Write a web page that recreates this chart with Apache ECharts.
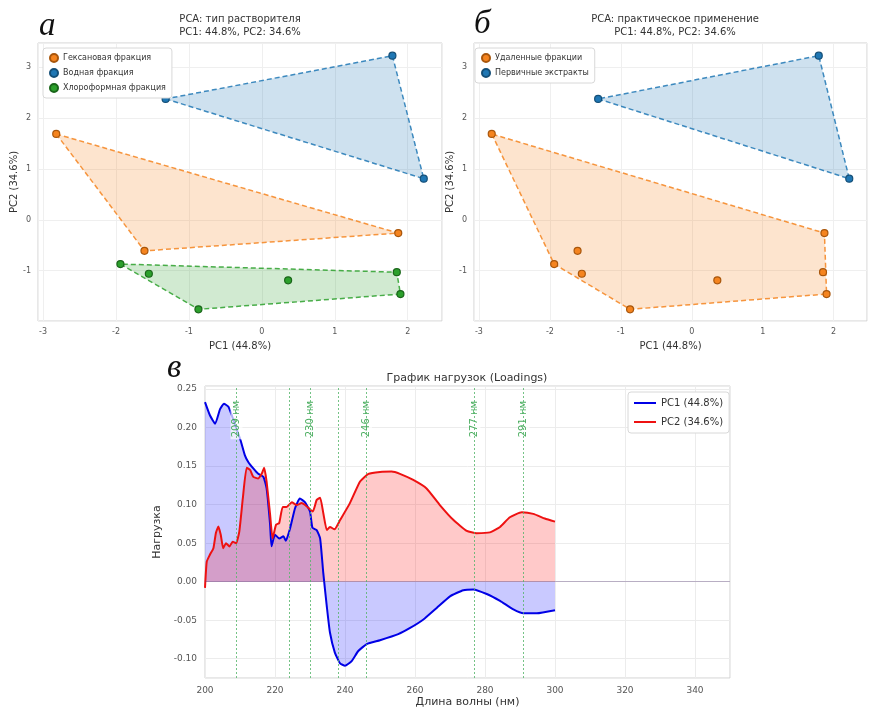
<!DOCTYPE html>
<html>
<head>
<meta charset="utf-8">
<script src="https://cdn.jsdelivr.net/npm/echarts@6/dist/echarts.min.js"></script>
<style>
html,body{margin:0;padding:0;background:#fff;}
#chart{width:870px;height:710px;}
</style>
</head>
<body>
<div id="chart"></div>
<script>
// PCA scores
const hexX = [-2.82, -1.61, 1.87];
const hexY = [1.69, -0.61, -0.26];
const waterX = [-1.32, 1.79, 2.22];
const waterY = [2.38, 3.23, 0.81];
const chloroX = [-1.94, -1.55, 0.36, 1.85, 1.90, -0.87];
const chloroY = [-0.87, -1.06, -1.19, -1.03, -1.46, -1.76];

// loadings
const pc1Wl = [200, 201.4, 202.9, 204.3, 205.4, 206.7, 208.5, 210.2, 211.4, 212.4, 213.8, 215.2, 216.7, 217.6, 218.6, 219, 220, 221.2, 222.4, 223.1, 224.3, 225.7, 227.1, 228.6, 230, 230.7, 231.9, 232.9, 233.8, 234.8, 235.7, 237.1, 238.6, 240, 241.9, 243.8, 246.2, 250, 255.2, 258.6, 262.4, 266.2, 270, 273.8, 276.7, 280.5, 284.3, 288.1, 291, 294.8, 300];
const pc1Val = [0.233, 0.216, 0.205, 0.224, 0.231, 0.227, 0.205, 0.183, 0.164, 0.155, 0.147, 0.140, 0.136, 0.121, 0.074, 0.046, 0.061, 0.056, 0.059, 0.053, 0.069, 0.095, 0.108, 0.103, 0.091, 0.070, 0.067, 0.056, 0.011, -0.032, -0.066, -0.092, -0.106, -0.109, -0.103, -0.090, -0.081, -0.076, -0.068, -0.060, -0.049, -0.034, -0.019, -0.011, -0.010, -0.016, -0.025, -0.036, -0.041, -0.041, -0.037];
const pc2Wl = [200, 200.5, 201.4, 202.4, 203.1, 203.8, 204.5, 205.2, 206, 207, 207.9, 208.9, 209.8, 210.8, 211.9, 212.9, 213.8, 215.2, 216.2, 216.9, 217.6, 218.6, 219.3, 220.3, 221.2, 222.2, 223.3, 224.8, 226.2, 227.6, 229, 230.8, 231.9, 232.9, 233.8, 234.8, 235.7, 237, 238.6, 241.4, 244.3, 246.7, 250, 253.3, 255.7, 259.5, 263.3, 267.1, 271, 274.8, 277.6, 281.4, 284.3, 287.1, 290.5, 293.8, 297.1, 300];
const pc2Val = [-0.008, 0.026, 0.035, 0.0435, 0.063, 0.0715, 0.061, 0.0435, 0.050, 0.0457, 0.052, 0.050, 0.065, 0.108, 0.148, 0.145, 0.136, 0.134, 0.140, 0.148, 0.130, 0.087, 0.056, 0.074, 0.076, 0.097, 0.097, 0.103, 0.0995, 0.102, 0.098, 0.091, 0.106, 0.109, 0.089, 0.067, 0.071, 0.068, 0.080, 0.102, 0.130, 0.140, 0.1425, 0.143, 0.140, 0.132, 0.121, 0.0995, 0.080, 0.066, 0.063, 0.064, 0.071, 0.0836, 0.090, 0.088, 0.082, 0.078];
const markWl = [209, 224, 230, 238, 246, 277, 291];
const labelWl = [209, 230, 246, 277, 291];

const ORANGE = '#f5841f', BLUE = '#1f77b4', GREEN = '#2ca02c';
const EDGE = { '#f5841f': '#a8560c', '#1f77b4': '#144f78', '#2ca02c': '#1a661a' };
const FONT = 'DejaVu Sans';

function zip(xs, ys) { return xs.map((x, i) => [x, ys[i]]); }

// convex hull (monotone chain) of a point group
function hull(pts) {
  const p = pts.slice().sort((a, b) => a[0] - b[0] || a[1] - b[1]);
  const cross = (o, a, b) => (a[0] - o[0]) * (b[1] - o[1]) - (a[1] - o[1]) * (b[0] - o[0]);
  const lo = [], up = [];
  p.forEach(q => { while (lo.length >= 2 && cross(lo[lo.length - 2], lo[lo.length - 1], q) <= 0) lo.pop(); lo.push(q); });
  p.slice().reverse().forEach(q => { while (up.length >= 2 && cross(up[up.length - 2], up[up.length - 1], q) <= 0) up.pop(); up.push(q); });
  return lo.slice(0, -1).concat(up.slice(0, -1));
}

function hullSeries(pts, color, gi) {
  const h = hull(pts);
  return {
    type: 'custom', xAxisIndex: gi, yAxisIndex: gi, silent: true, z: 1,
    data: [0],
    renderItem: (params, api) => ({
      type: 'polygon',
      shape: { points: h.map(p => api.coord(p)) },
      style: { fill: echarts.color.modifyAlpha(color, 0.22), stroke: echarts.color.modifyAlpha(color, 0.85), lineWidth: 1.5, lineDash: [5, 3] }
    })
  };
}

function dotSeries(name, pts, color, gi) {
  return {
    name: name, type: 'scatter', xAxisIndex: gi, yAxisIndex: gi, z: 3,
    symbolSize: 7, data: pts,
    itemStyle: { color: color, borderColor: EDGE[color], borderWidth: 1.2, opacity: 1 }
  };
}

const hexPts = zip(hexX, hexY), waterPts = zip(waterX, waterY), chloroPts = zip(chloroX, chloroY);
const removedPts = hexPts.concat(chloroPts);

const tickFmt = (step, dec) => v => {
  const k = Math.round(v / step);
  return Math.abs(v - k * step) < step * 1e-3 ? (k * step).toFixed(dec) : '';
};

function scoreAxes(gi) {
  return {
    x: {
      type: 'value', gridIndex: gi, min: -3.07, max: 2.47, splitNumber: 5,
      name: 'PC1 (44.8%)', nameLocation: 'middle', nameGap: 20,
      nameTextStyle: { fontFamily: FONT, fontSize: 10, color: '#333' },
      axisLine: { show: false }, axisTick: { show: false },
      axisLabel: { fontFamily: FONT, fontSize: 8, color: '#555', margin: 7, formatter: tickFmt(1, 0) },
      splitLine: { lineStyle: { color: '#efefef' } }
    },
    y: {
      type: 'value', gridIndex: gi, min: -1.99, max: 3.48, splitNumber: 5,
      name: 'PC2 (34.6%)', nameLocation: 'middle', nameGap: 17,
      nameTextStyle: { fontFamily: FONT, fontSize: 10, color: '#333' },
      axisLine: { show: false }, axisTick: { show: false },
      axisLabel: { fontFamily: FONT, fontSize: 8, color: '#555', margin: 7, formatter: v => (Math.abs(v - Math.round(v)) < 1e-3 && Math.round(v) > -2) ? String(Math.round(v)) : '' },
      splitLine: { lineStyle: { color: '#efefef' } }
    }
  };
}
const ax0 = scoreAxes(0), ax1 = scoreAxes(1);

const legendBox = { backgroundColor: '#fff', borderColor: '#d8d8d8', borderWidth: 1, borderRadius: 3, orient: 'vertical' };
const letterStyle = { fontFamily: 'Liberation Serif', fontStyle: 'italic', fontSize: 33, fill: '#111' };

const chart = echarts.init(document.getElementById('chart'), null, { renderer: 'canvas' });
chart.setOption({
  animation: false,
  backgroundColor: '#fff',
  textStyle: { fontFamily: FONT },
  grid: [
    { left: 38, top: 43, width: 404, height: 278, show: true, borderColor: '#d0d0d0', borderWidth: 1, backgroundColor: 'transparent' },
    { left: 474, top: 43, width: 404, height: 278, show: true, borderColor: '#d0d0d0', borderWidth: 1, backgroundColor: 'transparent' },
    { left: 205, top: 386, width: 525, height: 292, show: true, borderColor: '#d0d0d0', borderWidth: 1, backgroundColor: 'transparent' }
  ],
  xAxis: [ax0.x, ax1.x, {
    type: 'value', gridIndex: 2, min: 200, max: 350, splitNumber: 7,
    name: 'Длина волны (нм)', nameLocation: 'middle', nameGap: 19,
    nameTextStyle: { fontFamily: FONT, fontSize: 11, color: '#333' },
    axisLine: { show: false }, axisTick: { show: false },
    axisLabel: { fontFamily: FONT, fontSize: 9, color: '#555', margin: 8, formatter: tickFmt(20, 0) },
    splitLine: { lineStyle: { color: '#ececec' } }
  }],
  yAxis: [ax0.y, ax1.y, {
    type: 'value', gridIndex: 2, min: -0.125, max: 0.254, splitNumber: 8,
    name: 'Нагрузка', nameLocation: 'middle', nameGap: 40,
    nameTextStyle: { fontFamily: FONT, fontSize: 11, color: '#333' },
    axisLine: { show: false }, axisTick: { show: false },
    axisLabel: { fontFamily: FONT, fontSize: 9, color: '#555', margin: 8, formatter: tickFmt(0.05, 2) },
    splitLine: { lineStyle: { color: '#ececec' } }
  }],
  legend: [
    Object.assign({ left: 43, top: 48, data: ['Гексановая фракция', 'Водная фракция', 'Хлороформная фракция'] }, legendBox,
      { itemWidth: 8, itemHeight: 8, itemGap: 5, padding: [5, 6], textStyle: { fontFamily: FONT, fontSize: 8, color: '#333' } }),
    Object.assign({ left: 475, top: 48, data: ['Удаленные фракции', 'Первичные экстракты'] }, legendBox,
      { itemWidth: 8, itemHeight: 8, itemGap: 5, padding: [5, 6], textStyle: { fontFamily: FONT, fontSize: 8, color: '#333' } }),
    Object.assign({ left: 628, top: 392, data: ['PC1 (44.8%)', 'PC2 (34.6%)'] }, legendBox,
      { icon: 'rect', itemWidth: 22, itemHeight: 2, itemGap: 9, padding: [6, 6], textStyle: { fontFamily: FONT, fontSize: 10, color: '#333' } })
  ],
  graphic: [
    { type: 'text', x: 240, y: 13, style: { text: 'PCA: тип растворителя\nPC1: 44.8%, PC2: 34.6%', textAlign: 'center', fontFamily: FONT, fontSize: 10, lineHeight: 13, fill: '#333' } },
    { type: 'text', x: 675, y: 13, style: { text: 'PCA: практическое применение\nPC1: 44.8%, PC2: 34.6%', textAlign: 'center', fontFamily: FONT, fontSize: 10, lineHeight: 13, fill: '#333' } },
    { type: 'text', x: 467, y: 373, style: { text: 'График нагрузок (Loadings)', textAlign: 'center', fontFamily: FONT, fontSize: 11, fill: '#333' } },
    { type: 'text', x: 39, y: 10, style: Object.assign({ text: 'а' }, letterStyle) },
    { type: 'text', x: 474, y: 8, style: Object.assign({ text: 'б' }, letterStyle) },
    { type: 'text', x: 167, y: 352, style: Object.assign({ text: 'в' }, letterStyle) }
  ],
  series: [
    hullSeries(hexPts, ORANGE, 0), hullSeries(waterPts, BLUE, 0), hullSeries(chloroPts, GREEN, 0),
    dotSeries('Гексановая фракция', hexPts, ORANGE, 0),
    dotSeries('Водная фракция', waterPts, BLUE, 0),
    dotSeries('Хлороформная фракция', chloroPts, GREEN, 0),
    hullSeries(removedPts, ORANGE, 1), hullSeries(waterPts, BLUE, 1),
    dotSeries('Удаленные фракции', removedPts, ORANGE, 1),
    dotSeries('Первичные экстракты', waterPts, BLUE, 1),
    {
      name: 'PC1 (44.8%)', type: 'line', xAxisIndex: 2, yAxisIndex: 2, data: zip(pc1Wl, pc1Val),
      symbol: 'none', smooth: 0.15, z: 2,
      lineStyle: { color: '#0000e6', width: 2 }, itemStyle: { color: '#0000e6' },
      areaStyle: { color: 'rgba(0,0,255,0.3)', origin: 0 }
    },
    {
      name: 'PC2 (34.6%)', type: 'line', xAxisIndex: 2, yAxisIndex: 2, data: zip(pc2Wl, pc2Val),
      symbol: 'none', smooth: 0.15, z: 2,
      lineStyle: { color: '#ee1111', width: 2 }, itemStyle: { color: '#ee1111' },
      areaStyle: { color: 'rgba(255,0,0,0.3)', origin: 0 },
      markLine: {
        silent: true, symbol: 'none', label: { show: false },
        lineStyle: { color: 'rgba(90,60,120,0.35)', type: 'solid', width: 1 },
        data: [{ yAxis: 0 }]
      }
    },
    {
      type: 'scatter', xAxisIndex: 2, yAxisIndex: 2, symbolSize: 0, z: 4, silent: true,
      data: labelWl.map(w => [w, 0.211]),
      label: {
        show: true, position: 'inside', rotate: 90, formatter: p => p.value[0] + ' нм',
        fontFamily: FONT, fontSize: 10, color: '#1f9a3a', backgroundColor: 'rgba(255,255,255,0.85)', padding: [1, 2]
      },
      markLine: {
        silent: true, symbol: 'none', label: { show: false },
        lineStyle: { color: '#52b468', type: [2, 2], width: 1, opacity: 0.8 },
        data: markWl.map(w => ({ xAxis: w }))
      }
    }
  ]
});
</script>
</body>
</html>
